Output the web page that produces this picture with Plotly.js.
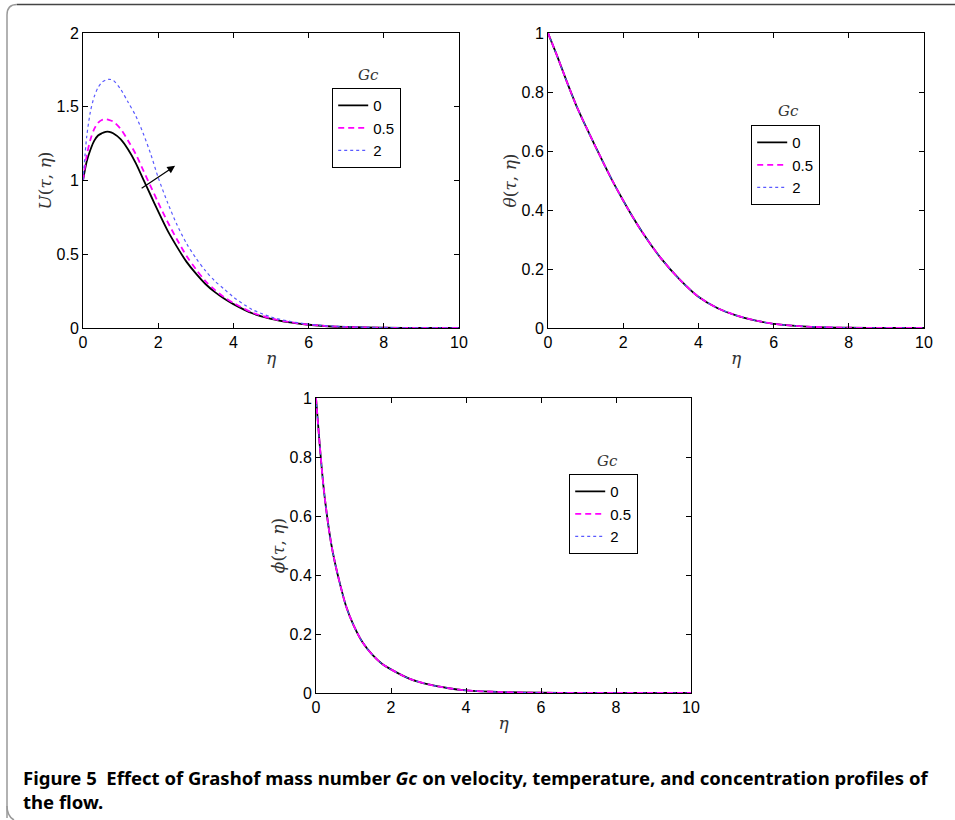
<!DOCTYPE html>
<html>
<head>
<meta charset="utf-8">
<script src="https://cdn.plot.ly/plotly-3.0.1.min.js"></script>
<style>html,body{margin:0;padding:0;background:#fff;}#chart{width:955px;height:820px;}</style>
</head>
<body>
<div id="chart"></div>
<script>
// ---- Data ----
const gcLabels = ["0", "0.5", "2"];

// Velocity U(tau, eta)
const etaU = [0, 0.1, 0.2, 0.3, 0.4, 0.5, 0.6, 0.7, 0.8, 1.0, 1.2, 1.4, 1.6, 1.8, 2.0, 2.25, 2.5, 2.75, 3.0, 3.25, 3.5, 3.75, 4.0, 4.5, 5, 5.5, 6, 6.5, 7, 8, 9, 10];
const uGc0  = [1.0, 1.13, 1.21, 1.27, 1.305, 1.32, 1.33, 1.33, 1.32, 1.28, 1.21, 1.12, 1.01, 0.90, 0.79, 0.66, 0.55, 0.45, 0.37, 0.30, 0.245, 0.20, 0.162, 0.10, 0.062, 0.038, 0.022, 0.012, 0.007, 0.002, 0.0006, 0];
const uGc05 = [1.0, 1.17, 1.28, 1.35, 1.39, 1.41, 1.415, 1.41, 1.40, 1.35, 1.27, 1.18, 1.07, 0.96, 0.85, 0.72, 0.60, 0.49, 0.40, 0.32, 0.26, 0.21, 0.17, 0.105, 0.065, 0.04, 0.023, 0.013, 0.007, 0.002, 0.0006, 0];
const uGc2  = [1.0, 1.30, 1.47, 1.57, 1.63, 1.665, 1.68, 1.686, 1.68, 1.62, 1.53, 1.44, 1.32, 1.18, 1.02, 0.85, 0.70, 0.575, 0.475, 0.39, 0.32, 0.265, 0.21, 0.125, 0.075, 0.045, 0.026, 0.015, 0.008, 0.0025, 0.0007, 0];

// Temperature theta(tau, eta) (same for all Gc)
const etaT = [0, 0.25, 0.5, 0.75, 1.0, 1.25, 1.5, 1.75, 2.0, 2.25, 2.5, 2.75, 3.0, 3.5, 4.0, 4.5, 5.0, 5.5, 6.0, 6.5, 7.0, 8.0, 9.0, 10.0];
const thGc0  = [1, 0.92, 0.835, 0.755, 0.685, 0.618, 0.553, 0.49, 0.432, 0.377, 0.326, 0.28, 0.237, 0.165, 0.106, 0.068, 0.043, 0.026, 0.014, 0.008, 0.004, 0.001, 0.0003, 0];
const thGc05 = [1, 0.92, 0.835, 0.755, 0.685, 0.618, 0.553, 0.49, 0.432, 0.377, 0.326, 0.28, 0.237, 0.165, 0.106, 0.068, 0.043, 0.026, 0.014, 0.008, 0.004, 0.001, 0.0003, 0];
const thGc2  = [1, 0.92, 0.835, 0.755, 0.685, 0.618, 0.553, 0.49, 0.432, 0.377, 0.326, 0.28, 0.237, 0.165, 0.106, 0.068, 0.043, 0.026, 0.014, 0.008, 0.004, 0.001, 0.0003, 0];

// Concentration phi(tau, eta) (same for all Gc)
const etaP = [0, 0.1, 0.2, 0.3, 0.4, 0.5, 0.6, 0.8, 1.0, 1.25, 1.5, 1.75, 2.0, 2.5, 3.0, 3.5, 4.0, 5.0, 6.0, 7.0, 8.0, 10.0];
const phGc0  = [1, 0.84, 0.70, 0.595, 0.51, 0.445, 0.39, 0.295, 0.23, 0.17, 0.13, 0.10, 0.08, 0.048, 0.029, 0.017, 0.009, 0.003, 0.001, 0.0004, 0.0001, 0];
const phGc05 = [1, 0.84, 0.70, 0.595, 0.51, 0.445, 0.39, 0.295, 0.23, 0.17, 0.13, 0.10, 0.08, 0.048, 0.029, 0.017, 0.009, 0.003, 0.001, 0.0004, 0.0001, 0];
const phGc2  = [1, 0.84, 0.70, 0.595, 0.51, 0.445, 0.39, 0.295, 0.23, 0.17, 0.13, 0.10, 0.08, 0.048, 0.029, 0.017, 0.009, 0.003, 0.001, 0.0004, 0.0001, 0];

const xTicks = [0, 2, 4, 6, 8, 10];
const uTicks = [0, 0.5, 1, 1.5, 2];
const tTicks = [0, 0.2, 0.4, 0.6, 0.8, 1];

// ---- Layout helpers ----
const W = 955, H = 820;
const px = v => v / W;
const py = v => 1 - v / H;

const styles = [
  {color: "black", width: 1.8, dash: "solid", shape: "spline", smoothing: 0.8},
  {color: "#ff00ff", width: 1.8, dash: "6px,4px", shape: "spline", smoothing: 0.8},
  {color: "#5a5aff", width: 1.2, dash: "dot", shape: "spline", smoothing: 0.8}
];

function mk(x, y, i, xa, ya, leg) {
  return {x: x, y: y, type: "scatter", mode: "lines", name: gcLabels[i],
    xaxis: xa, yaxis: ya, legend: leg, line: styles[i], hoverinfo: "skip",
    legendrank: i + 1};
}

const traces = [
  mk(etaU, uGc0, 0, "x", "y", "legend"),
  mk(etaU, uGc05, 1, "x", "y", "legend"),
  mk(etaU, uGc2, 2, "x", "y", "legend"),
  mk(etaT, thGc0, 0, "x2", "y2", "legend2"),
  mk(etaT, thGc2, 2, "x2", "y2", "legend2"),
  mk(etaT, thGc05, 1, "x2", "y2", "legend2"),
  mk(etaP, phGc0, 0, "x3", "y3", "legend3"),
  mk(etaP, phGc2, 2, "x3", "y3", "legend3"),
  mk(etaP, phGc05, 1, "x3", "y3", "legend3")
];

const sans = "'Liberation Sans', Arial, sans-serif";
const serif = "'DejaVu Serif', 'Liberation Serif', serif";
const tickFont = {family: sans, size: 16, color: "black"};
const titleFont = {family: serif, size: 17, color: "#333"};

function xax(d, anchor) {
  return {domain: d, anchor: anchor, range: [0, 10], tickvals: xTicks, ticks: "inside", ticklen: 5,
    tickcolor: "black", showline: true, linecolor: "black", linewidth: 1, mirror: "ticks",
    showgrid: false, zeroline: false, tickfont: tickFont,
    title: {text: "<i>η</i>", font: titleFont, standoff: 1}};
}
function yax(d, anchor, range, tv, ttl) {
  return {domain: d, anchor: anchor, range: range, tickvals: tv, ticks: "inside", ticklen: 5,
    tickcolor: "black", showline: true, linecolor: "black", linewidth: 1, mirror: "ticks",
    showgrid: false, zeroline: false, tickfont: tickFont,
    title: {text: ttl, font: titleFont, standoff: 0}};
}
function leg(x, y) {
  return {x: px(x), y: py(y), xanchor: "left", yanchor: "top", bgcolor: "white",
    bordercolor: "black", borderwidth: 1.2, font: {family: sans, size: 15, color: "black"},
    tracegroupgap: 0, itemwidth: 30};
}

const gcAnn = (x, y) => ({text: "<i>Gc</i>", xref: "paper", yref: "paper", x: px(x), y: py(y),
  xanchor: "center", yanchor: "middle",
  showarrow: false, font: {family: serif, size: 15, color: "#333"}});

const layout = {
  width: W, height: H, margin: {l: 0, r: 0, t: 0, b: 0},
  paper_bgcolor: "white", plot_bgcolor: "white", showlegend: true,
  xaxis: xax([px(83), px(459)], "y"),
  yaxis: yax([py(328), py(33)], "x", [0, 2], uTicks, "<i>U</i>(<i>τ</i>, <i>η</i>)"),
  xaxis2: xax([px(548), px(924)], "y2"),
  yaxis2: yax([py(328), py(33)], "x2", [0, 1], tTicks, "<i>θ</i>(<i>τ</i>, <i>η</i>)"),
  xaxis3: xax([px(316), px(691)], "y3"),
  yaxis3: yax([py(693), py(398)], "x3", [0, 1], tTicks, "<i>ϕ</i>(<i>τ</i>, <i>η</i>)"),
  legend: leg(332, 88),
  legend2: leg(751, 125),
  legend3: leg(569, 474),
  annotations: [
    gcAnn(368, 75), gcAnn(788, 111), gcAnn(607, 461),
    {xref: "x", yref: "y", axref: "x", ayref: "y", x: 2.45, y: 1.10, ax: 1.52, ay: 0.94,
     showarrow: true, arrowhead: 2, arrowsize: 1.3, arrowwidth: 1.2, arrowcolor: "black", text: ""},
    {xref: "paper", yref: "paper", x: px(21), y: py(763), xanchor: "left", yanchor: "top", align: "left",
     showarrow: false,
     text: "Figure 5  Effect of Grashof mass number <i>Gc</i> on velocity, temperature, and concentration profiles of<br>the flow.",
     font: {family: "'Noto Sans', 'Open Sans', sans-serif", size: 18.5, color: "black", weight: "bold"}}
  ],
  shapes: [
    {type: "path", xref: "paper", yref: "paper",
     path: `M ${px(7)} ${py(818)} L ${px(7)} ${py(15)} Q ${px(7)} ${py(4.5)} ${px(17)} ${py(4.5)}`,
     line: {color: "#999", width: 1.5}},
    {type: "path", xref: "paper", yref: "paper",
     path: `M ${px(17)} ${py(4.5)} L ${px(955)} ${py(4.5)}`,
     line: {color: "#444", width: 1.5}},
    {type: "path", xref: "paper", yref: "paper",
     path: `M ${px(7)} ${py(806)} Q ${px(7)} ${py(816)} ${px(14)} ${py(820)}`,
     line: {color: "#999", width: 1.5}}
  ]
};

Plotly.newPlot("chart", traces, layout, {staticPlot: true, displayModeBar: false});
</script>
</body>
</html>
